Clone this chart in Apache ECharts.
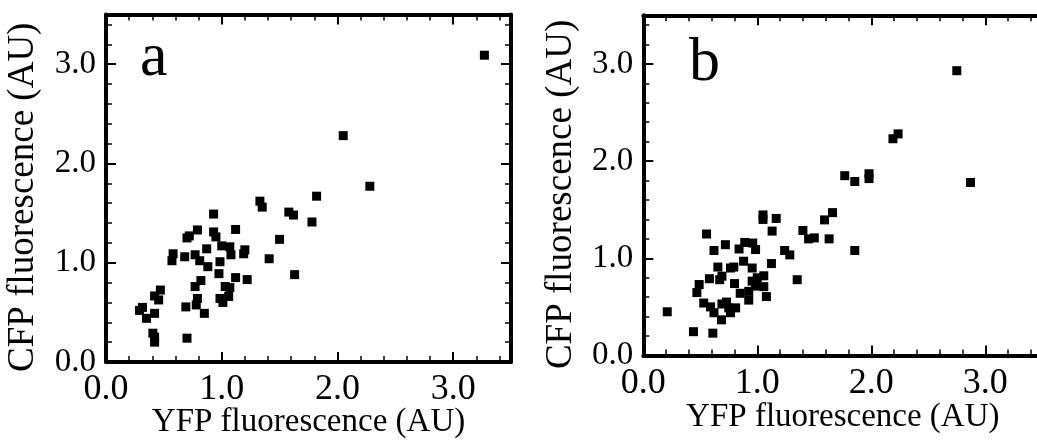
<!DOCTYPE html>
<html>
<head>
<meta charset="utf-8">
<script src="https://cdn.jsdelivr.net/npm/echarts@6/dist/echarts.min.js"></script>
<style>
    html, body { margin: 0; padding: 0; background: #fff; }
    #chart { width: 1037px; height: 440px; }
</style>
</head>
<body>
<div id="chart"></div>
<script>
// panel a: YFP (x) vs CFP (y)
var aX = [3.27, 2.05, 2.28, 1.82, 1.78, 1.33, 1.35, 1.58, 1.62, 1.50, 1.41, 1.63, 0.93, 1.12, 0.79,
    0.70, 0.72, 0.93, 0.95, 0.87, 1.00, 1.07, 1.08, 1.20, 1.19, 0.58, 0.57, 0.68, 0.77, 0.81,
    0.88, 0.985, 0.976, 1.12, 1.22, 0.82, 0.77, 1.03, 1.07, 1.06, 0.985, 1.01, 0.79, 0.78, 0.69,
    0.85, 0.47, 0.42, 0.455, 0.315, 0.29, 0.35, 0.42, 0.405, 0.42, 0.42, 0.70];
var aY = [3.09, 2.28, 1.77, 1.67, 1.41, 1.62, 1.56, 1.51, 1.48, 1.235, 1.04, 0.88, 1.49, 1.335, 1.33,
    1.25, 1.27, 1.31, 1.26, 1.14, 1.17, 1.16, 1.08, 1.13, 1.09, 1.09, 1.02, 1.06, 1.08, 1.02,
    0.96, 1.01, 0.89, 0.85, 0.83, 0.82, 0.76, 0.76, 0.75, 0.66, 0.64, 0.60, 0.64, 0.575, 0.555,
    0.49, 0.725, 0.665, 0.625, 0.55, 0.52, 0.44, 0.49, 0.29, 0.25, 0.20, 0.24];

// panel b
var bX = [2.75, 2.87, 2.19, 2.235, 1.767, 1.855, 1.98, 1.98, 1.855, 1.66, 1.59, 1.63, 1.40, 1.45, 1.50,
    1.35, 1.24, 1.285, 1.05, 1.05, 1.166, 1.13, 1.124, 0.555, 0.62, 0.72, 0.84, 0.89, 0.96, 0.985,
    0.88, 0.955, 0.654, 0.765, 0.794, 0.58, 0.67, 0.69, 0.80, 0.955, 1.00, 1.057, 0.985, 1.057, 0.49,
    0.47, 0.85, 0.925, 1.08, 0.925, 0.53, 0.59, 0.62, 0.73, 0.69, 0.75, 0.81, 0.765, 0.686, 0.21,
    0.44, 0.61];
var bY = [2.93, 1.78, 2.23, 2.28, 1.85, 1.79, 1.87, 1.82, 1.08, 1.47, 1.395, 1.20, 1.286, 1.20, 1.21,
    0.78, 1.08, 1.035, 1.446, 1.40, 1.41, 1.28, 0.946, 1.25, 1.08, 1.14, 1.096, 1.163, 1.157, 1.09,
    0.97, 0.90, 0.91, 0.90, 0.91, 0.79, 0.78, 0.816, 0.74, 0.765, 0.80, 0.82, 0.714, 0.708, 0.73,
    0.647, 0.64, 0.66, 0.606, 0.57, 0.54, 0.50, 0.44, 0.55, 0.53, 0.49, 0.49, 0.44, 0.367, 0.45,
    0.245, 0.23];

var tickValues = [0, 1, 2, 3];
var panelLetters = ['a', 'b'];
var xName = 'YFP fluorescence (AU)';
var yName = 'CFP fluorescence (AU)';

var FONT = '"Liberation Serif", "DejaVu Serif", serif';

function pairs(xs, ys) {
    var out = [];
    for (var i = 0; i < xs.length; i++) out.push([xs[i], ys[i]]);
    return out;
}

// panel b runs past the right edge of the picture, so no clamping
var grids = [
    { left: 106, top: 14.5, width: 405, height: 347.5, outerBoundsMode: 'none', containLabel: false },
    { left: 643.3, top: 15.3, width: 399, height: 340.2, outerBoundsMode: 'none', containLabel: false }
];

var xAxes = [], yAxes = [];

function fmt(v) {
    return tickValues.indexOf(Math.round(v * 10) / 10) >= 0 ? v.toFixed(1) : '';
}

// each side: one axis for majors (+labels), one for minors every 0.2
function addAxes(g, showRight, xGap) {
    ['bottom', 'top'].forEach(function(pos) {
        var main = pos === 'bottom';
        xAxes.push({
            gridIndex: g, type: 'value', position: pos, min: 0, max: 3.5, interval: 1,
            name: main ? xName : '', nameLocation: 'middle', nameGap: xGap, nameMoveOverlap: false,
            nameTextStyle: { fontFamily: FONT, fontSize: 33, color: '#000' },
            axisLine: { show: true, onZero: false, lineStyle: { color: '#000', width: 4 } },
            axisTick: { show: true, inside: true, length: 10, lineStyle: { color: '#000', width: 2 } },
            axisLabel: { show: main, margin: 10, formatter: fmt, fontFamily: FONT, fontSize: 36, color: '#000' },
            splitLine: { show: false }
        });
        xAxes.push({
            gridIndex: g, type: 'value', position: pos, min: 0, max: 3.5, interval: 0.2,
            axisLine: { show: false, onZero: false },
            axisTick: { show: true, inside: true, length: 6, lineStyle: { color: '#000', width: 1.5 } },
            axisLabel: { show: false },
            splitLine: { show: false }
        });
    });
    ['left', 'right'].forEach(function(pos) {
        var main = pos === 'left';
        var vis = main || showRight;
        yAxes.push({
            gridIndex: g, type: 'value', position: pos, min: 0, max: 3.5, interval: 1,
            name: main ? yName : '', nameLocation: 'middle', nameGap: 64, nameMoveOverlap: false,
            nameTextStyle: { fontFamily: FONT, fontSize: 37, color: '#000', padding: [0, 18, 0, 0] },
            axisLine: { show: vis, onZero: false, lineStyle: { color: '#000', width: 4 } },
            axisTick: { show: vis, inside: true, length: 10, lineStyle: { color: '#000', width: 2 } },
            axisLabel: { show: main, margin: 10, formatter: fmt, fontFamily: FONT, fontSize: 33, color: '#000' },
            splitLine: { show: false }
        });
        yAxes.push({
            gridIndex: g, type: 'value', position: pos, min: 0, max: 3.5, interval: 0.2,
            axisLine: { show: false, onZero: false },
            axisTick: { show: vis, inside: true, length: 6, lineStyle: { color: '#000', width: 1.5 } },
            axisLabel: { show: false },
            splitLine: { show: false }
        });
    });
}
addAxes(0, true, 44);
addAxes(1, false, 45);   // right side of b is cut off in the original

var chart = echarts.init(document.getElementById('chart'), null, { renderer: 'canvas' });

var option = {
    backgroundColor: '#fff',
    animation: false,
    grid: grids,
    xAxis: xAxes,
    yAxis: yAxes,
    graphic: [
        { type: 'text', left: 140, top: 28, style: { text: panelLetters[0], font: '62px ' + FONT, fill: '#000' } },
        { type: 'text', left: 689, top: 33, style: { text: panelLetters[1], font: '62px ' + FONT, fill: '#000' } }
    ],
    series: [{
        type: 'scatter',
        xAxisIndex: 0, yAxisIndex: 0,
        symbol: 'rect', symbolSize: 9,
        itemStyle: { color: '#000', opacity: 1 },
        data: pairs(aX, aY)
    }, {
        type: 'scatter',
        xAxisIndex: 4, yAxisIndex: 4,
        symbol: 'rect', symbolSize: 9,
        itemStyle: { color: '#000', opacity: 1 },
        data: pairs(bX, bY)
    }]
};

chart.setOption(option);
</script>
</body>
</html>
